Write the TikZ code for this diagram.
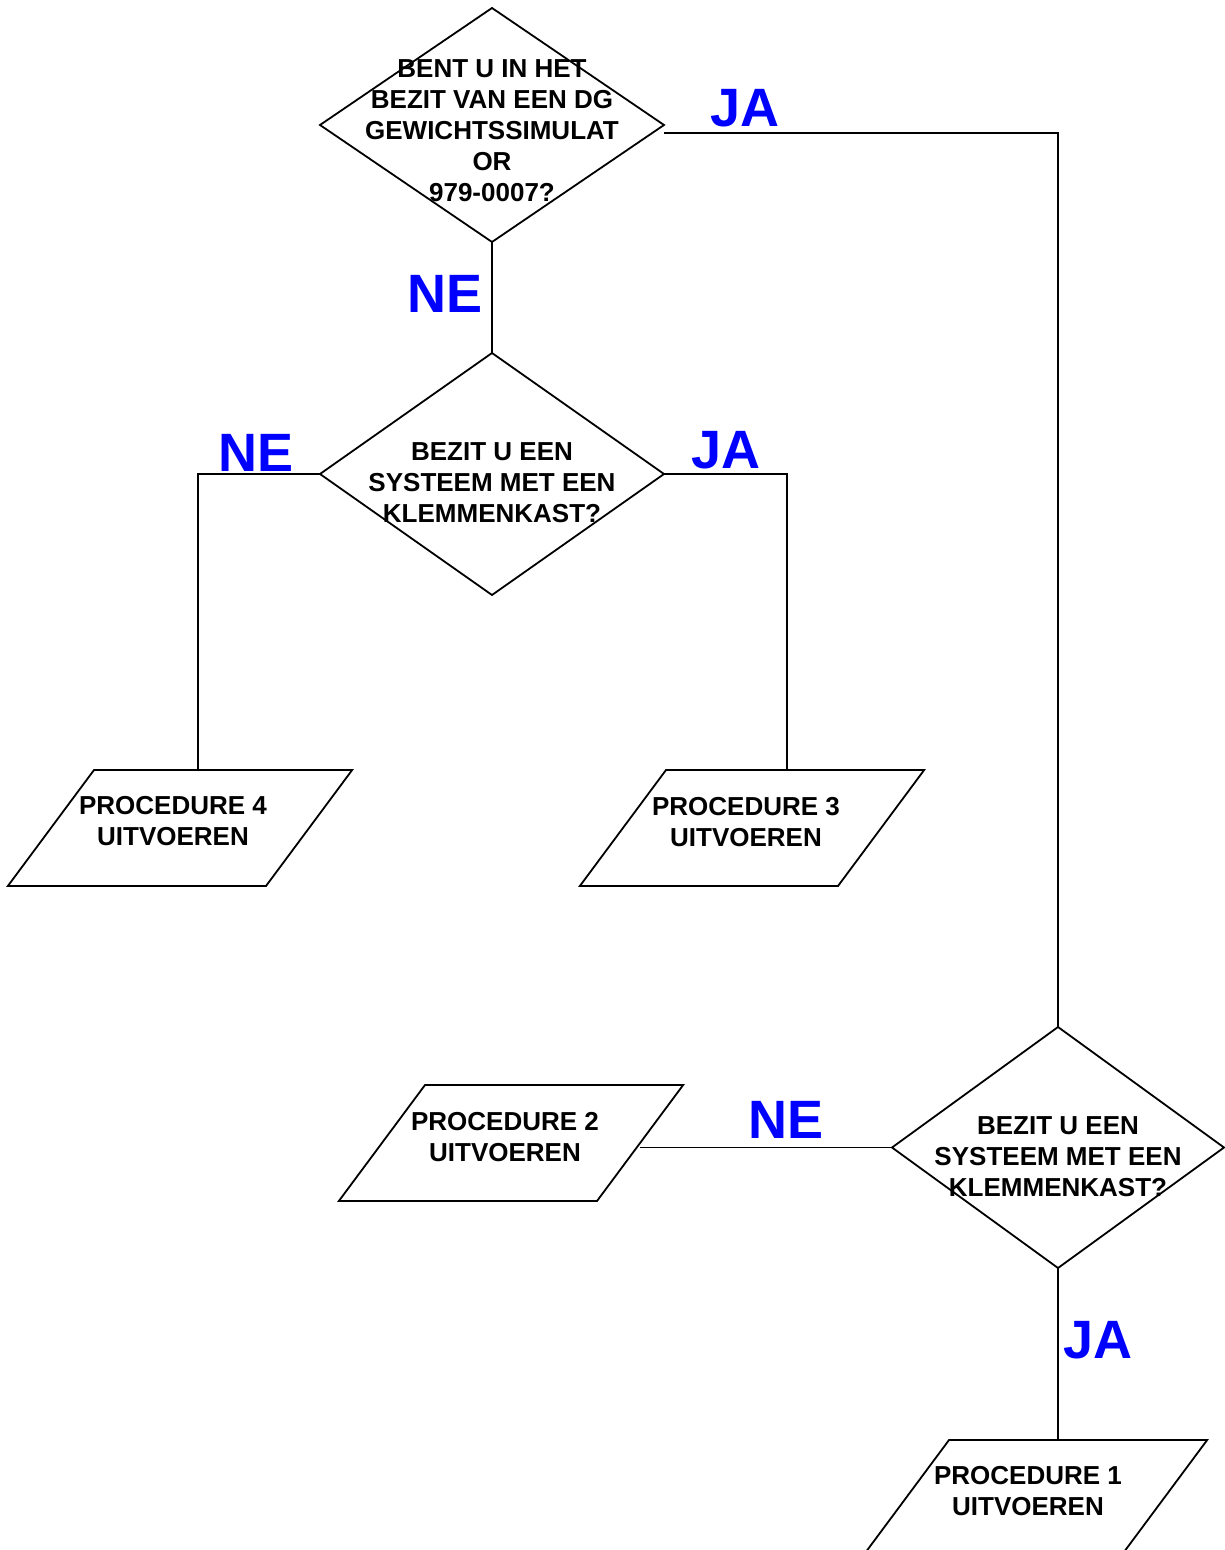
\documentclass[tikz,border=0pt]{standalone}
\usepackage{fontspec}
\setmainfont{Liberation Sans}
\usetikzlibrary{shapes.geometric}
\tikzset{
  vraag/.style={diamond,draw,line width=0.9pt,inner sep=0pt,outer sep=0pt},
  proc/.style={trapezium,trapezium left angle=53.4,trapezium right angle=126.6,draw,line width=0.9pt,inner xsep=43pt,inner ysep=29pt,outer sep=0pt},
  tekst/.style={align=center,inner sep=0pt,font=\fontsize{13}{15.5}\selectfont\bfseries},
  antw/.style={text=blue,inner sep=0pt,font=\fontsize{27}{30}\selectfont\bfseries}
}
\begin{document}
\begin{tikzpicture}[x=0.5pt,y=0.5pt,line width=0.9pt]
  \useasboundingbox (0,0) rectangle (1224,-1550);
  \node[vraag,minimum width=172pt,minimum height=117pt] (d1) at (492,-125) {};
  \node[tekst] (t1) at (492,-131) {BENT U IN HET\\BEZIT VAN EEN DG\\GEWICHTSSIMULAT\\OR\\979-0007?};
  \node[vraag,minimum width=172pt,minimum height=121pt] (d2) at (492,-474) {};
  \node[tekst] (t2) at (492,-483) {BEZIT U EEN\\SYSTEEM MET EEN\\KLEMMENKAST?};
  \node[vraag,minimum width=166pt,minimum height=120.5pt] (d3) at (1058,-1147.5) {};
  \node[tekst] (t3) at (1058,-1157) {BEZIT U EEN\\SYSTEEM MET EEN\\KLEMMENKAST?};
  \node[proc] (p4) at (180,-828) {};
  \node[tekst] (t4) at (173,-821) {PROCEDURE 4\\UITVOEREN};
  \node[proc] (p3) at (752,-828) {};
  \node[tekst] (t5) at (746,-822) {PROCEDURE 3\\UITVOEREN};
  \node[proc] (p2) at (511,-1143) {};
  \node[tekst] (t6) at (505,-1137) {PROCEDURE 2\\UITVOEREN};
  \node[proc] (p1) at (1035,-1498) {};
  \node[tekst] (t7) at (1028,-1491) {PROCEDURE 1\\UITVOEREN};
  \coordinate (k1) at (1058,-133);
  \coordinate (k4) at (198,-474);
  \coordinate (k3) at (787,-474);
  \draw ([yshift=-4pt]d1.east) -- (k1) -- (d3.north);
  \draw (d1.south) -- (d2.north);
  \draw (d2.west) -- (k4) -- (k4 |- p4.north);
  \draw (d2.east) -- (k3) -- (k3 |- p3.north);
  \draw (d3.west) -- (p2.east |- d3.west);
  \draw (d3.south) -- (d3.south |- p1.north);
  \node[antw] (ja1) at (745,-108) {JA};
  \node[antw] (ne1) at (445,-294) {NE};
  \node[antw] (ne2) at (256,-453) {NE};
  \node[antw] (ja2) at (726,-450) {JA};
  \node[antw] (ne3) at (786,-1120) {NE};
  \node[antw] (ja3) at (1098,-1340) {JA};
\end{tikzpicture}
\end{document}
